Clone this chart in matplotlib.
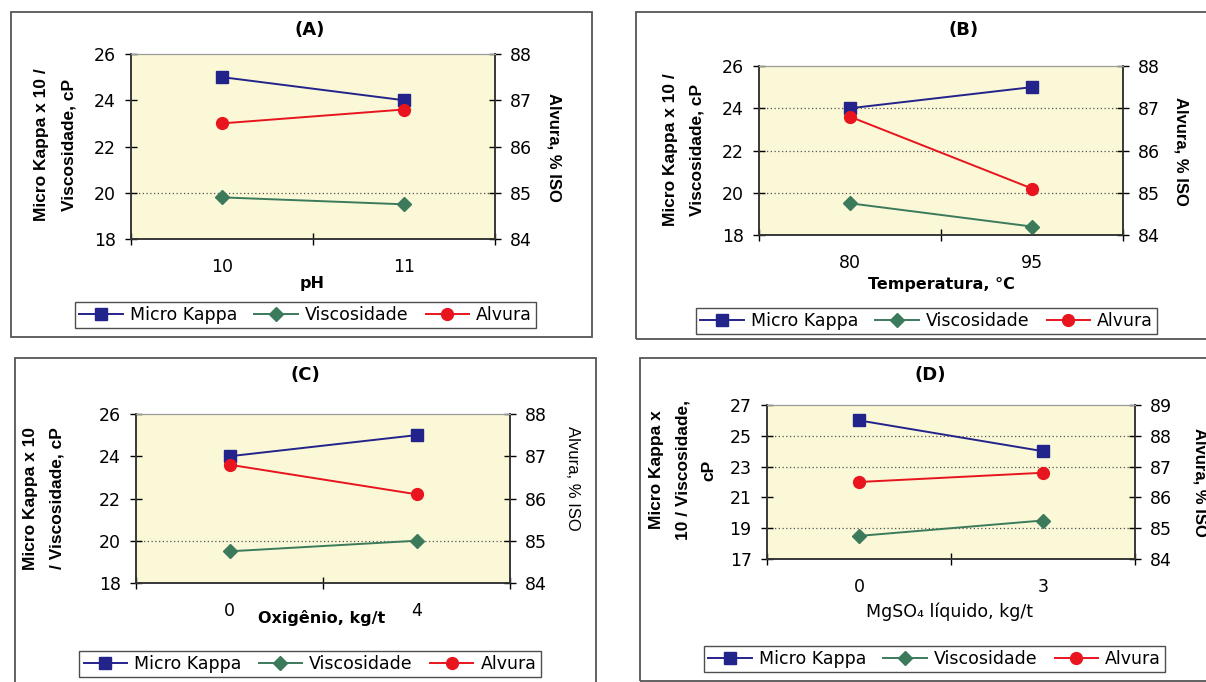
import matplotlib
matplotlib.use("Agg")
import matplotlib.pyplot as plt
from matplotlib.patches import Rectangle
from matplotlib.lines import Line2D

W, H = 1206, 682
plt.rcParams['font.family'] = ['DejaVu Sans']

# ---- data ----
series_names = ["Micro Kappa", "Viscosidade", "Alvura"]

a_cats = ["10", "11"]
a_kappa = [25.0, 24.0]
a_visc = [19.8, 19.5]
a_alvura = [86.5, 86.8]

b_cats = ["80", "95"]
b_kappa = [24.0, 25.0]
b_visc = [19.5, 18.4]
b_alvura = [86.8, 85.1]

c_cats = ["0", "4"]
c_kappa = [24.0, 25.0]
c_visc = [19.5, 20.0]
c_alvura = [86.8, 86.1]

d_cats = ["0", "3"]
d_kappa = [26.0, 24.0]
d_visc = [18.5, 19.5]
d_alvura = [86.5, 86.8]

C_KAPPA = "#23238C"
C_VISC = "#3C7A5C"
C_ALV = "#E8141E"
BG = "#FAF8D6"

fig = plt.figure(figsize=(W / 100, H / 100), dpi=100)
fig.patch.set_facecolor("white")


def fx(x):
    return x / W


def fy(y):
    return 1 - y / H


def box(x0, y0, x1, y1):
    fig.patches.append(Rectangle((fx(x0), fy(y1)), fx(x1 - x0), (y1 - y0) / H,
                                 transform=fig.transFigure, fill=False,
                                 edgecolor="#555555", lw=1.3))


NARROW = ['Liberation Sans Narrow', 'Liberation Sans', 'DejaVu Sans']
MS_SQ, MS_D, MS_O = 8.5, 7, 8.5


def panel(spec):
    box(*spec["box"])
    x0, y0, x1, y1 = spec["plot"]
    ax = fig.add_axes([fx(x0), fy(y1), fx(x1 - x0), (y1 - y0) / H])
    ax.set_facecolor(BG)
    cats = spec["cats"]
    xs = list(range(len(cats)))
    lo, hi, step = spec["left"]
    rlo, rhi = spec["right"]
    ax.set_xlim(-0.5, len(cats) - 0.5)
    ax.set_ylim(lo, hi)
    ax.set_yticks(list(range(lo, hi + 1, step)))
    for g in spec["grid"]:
        ax.axhline(g, color="#555555", lw=0.9, ls=(0, (1, 2)), zorder=1)
    ax.plot(xs, spec["kappa"], color=C_KAPPA, lw=1.4, marker="s", ms=MS_SQ,
            zorder=4)
    ax.plot(xs, spec["visc"], color=C_VISC, lw=1.4, marker="D", ms=MS_D,
            zorder=4)
    ax2 = ax.twinx()
    ax2.set_ylim(rlo, rhi)
    ax2.set_yticks(list(range(rlo, rhi + 1)))
    ax2.plot(xs, spec["alvura"], color=C_ALV, lw=1.4, marker="o", ms=MS_O,
             zorder=4)
    ax.set_xticks(xs)
    ax.set_xticklabels(cats)
    ax.set_xticks([i - 0.5 for i in range(len(cats) + 1)], minor=True)
    ax.tick_params(axis="x", which="major", length=0, pad=14, labelsize=12.5)
    ax.tick_params(axis="x", which="minor", length=8, direction="inout",
                   width=1.0)
    ax.tick_params(axis="y", length=8, direction="inout", pad=7,
                   labelsize=12.5, width=1.0)
    ax2.tick_params(axis="y", length=8, direction="inout", pad=7,
                    labelsize=12.5, width=1.0)
    for a in (ax, ax2):
        for s in ("left", "bottom", "right"):
            a.spines[s].set_color("#333333")
            a.spines[s].set_linewidth(1.1)
        a.spines["top"].set_color("#9a9a9a")
        a.spines["top"].set_linewidth(0.8)
    # title
    tx, ty = spec["title_pos"]
    fig.text(fx(tx), fy(ty), spec["title"], ha="center", va="center",
             fontsize=13, fontweight="bold")
    # left ylabel (multi-line)
    yc = spec["ylabel_y"]
    for xline, txt in zip(spec["ylabel_x"], spec["ylabel"]):
        fig.text(fx(xline), fy(yc), txt, ha="center", va="center",
                 rotation=90, fontsize=12.5, fontweight="bold",
                 family=NARROW)
    rx, ry = spec["rlabel_pos"]
    fig.text(fx(rx), fy(ry), "Alvura, % ISO", ha="center", va="center",
             rotation=270, fontsize=12,
             fontweight="bold" if spec["rbold"] else "normal",
             family=NARROW)
    xlx, xly = spec["xlabel_pos"]
    fig.text(fx(xlx), fy(xly), spec["xlabel"], ha="center", va="center",
             fontsize=11.5 if spec["xbold"] else 12.5,
             fontweight="bold" if spec["xbold"] else "normal")
    # legend
    lx0, ly0, lx1, ly1 = spec["legend"]
    handles = [
        Line2D([], [], color=C_KAPPA, lw=1.4, marker="s", ms=MS_SQ),
        Line2D([], [], color=C_VISC, lw=1.4, marker="D", ms=MS_D),
        Line2D([], [], color=C_ALV, lw=1.4, marker="o", ms=MS_O),
    ]
    leg = fig.legend(handles, series_names, loc="center",
                     bbox_to_anchor=(fx((lx0 + lx1) / 2), fy((ly0 + ly1) / 2)),
                     ncol=3, frameon=True, fancybox=False, fontsize=12.5,
                     handlelength=2.5, handletextpad=0.4, columnspacing=1.0,
                     borderpad=0.25, borderaxespad=0)
    leg.get_frame().set_edgecolor("#222222")
    leg.get_frame().set_linewidth(1.0)
    return ax


panels = [
    dict(box=(11, 12, 592, 337), plot=(131, 54, 495, 239), cats=a_cats,
         kappa=a_kappa, visc=a_visc, alvura=a_alvura, left=(18, 26, 2),
         right=(84, 88), grid=[20], title="(A)", title_pos=(310, 30),
         ylabel=["Micro Kappa x 10 /", "Viscosidade, cP"], ylabel_x=[42, 69],
         ylabel_y=145, rlabel_pos=(554, 147), rbold=True, xlabel="pH",
         xlabel_pos=(312, 283), xbold=True, legend=(73, 302, 538, 328)),
    dict(box=(636, 12, 1215, 339), plot=(759, 66, 1123, 235), cats=b_cats,
         kappa=b_kappa, visc=b_visc, alvura=b_alvura, left=(18, 26, 2),
         right=(84, 88), grid=[20, 22, 24], title="(B)", title_pos=(964, 30),
         ylabel=["Micro Kappa x 10 /", "Viscosidade, cP"], ylabel_x=[671, 697],
         ylabel_y=150, rlabel_pos=(1181, 151), rbold=True,
         xlabel="Temperatura, °C", xlabel_pos=(941, 284), xbold=True,
         legend=(693, 308, 1160, 334)),
    dict(box=(15, 358, 596, 690), plot=(136, 414, 510, 583), cats=c_cats,
         kappa=c_kappa, visc=c_visc, alvura=c_alvura, left=(18, 26, 2),
         right=(84, 88), grid=[20], title="(C)", title_pos=(305, 375),
         ylabel=["Micro Kappa x 10", "/ Viscosidade, cP"], ylabel_x=[31, 57],
         ylabel_y=498, rlabel_pos=(573, 478), rbold=False,
         xlabel="Oxigênio, kg/t", xlabel_pos=(322, 618), xbold=True,
         legend=(77, 651, 543, 677)),
    dict(box=(640, 358, 1215, 681), plot=(767, 405, 1135, 559), cats=d_cats,
         kappa=d_kappa, visc=d_visc, alvura=d_alvura, left=(17, 27, 2),
         right=(84, 89), grid=[19, 23, 25], title="(D)", title_pos=(930, 375),
         ylabel=["Micro Kappa x", "10 / Viscosidade,", "cP"],
         ylabel_x=[656, 683, 709], ylabel_y=470, rlabel_pos=(1200, 482),
         rbold=True, xlabel="MgSO₄ líquido, kg/t", xlabel_pos=(949, 612),
         xbold=False, legend=(701, 646, 1168, 672)),
]

for p in panels:
    panel(p)

fig.savefig("out.png", dpi=100, facecolor="white")
